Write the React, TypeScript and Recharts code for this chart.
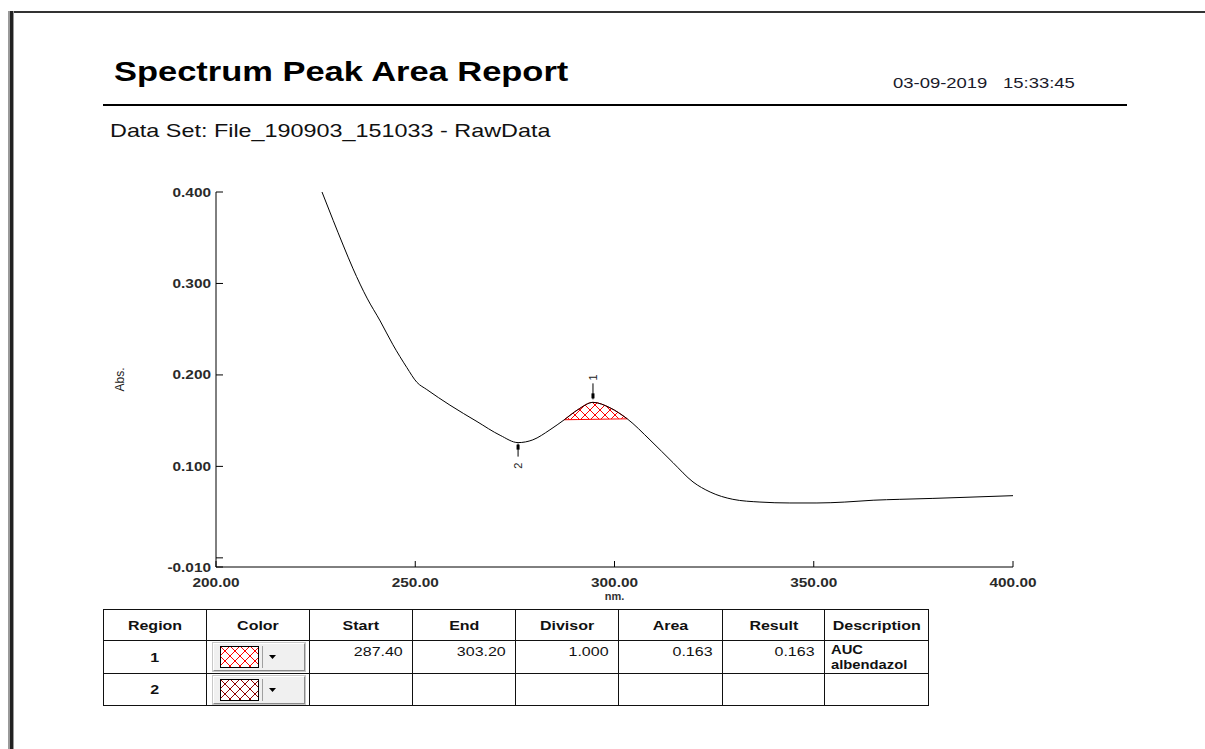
import React from 'react';
import { ComposedChart, Line, Area, XAxis, YAxis, ReferenceDot } from 'recharts';

// spectrum (nm / Abs.)
const wavelength = [
  226.6, 229.4, 231.9, 234.4, 237.9, 241.2, 244.4, 247.9, 250.4, 252.9,
  258.7, 265.5, 271.3, 275.8, 279.5, 283.8, 287.4, 290.8, 294.6, 298.9,
  303.2, 308.9, 314.7, 319.7, 324.0, 329.7, 336.5, 344.0, 350.8, 357.8,
  364.9, 371.6, 379.9, 386.7, 400.0,
];
const absorbance = [
  0.400, 0.369, 0.342, 0.316, 0.284, 0.259, 0.233, 0.208, 0.192, 0.184,
  0.167, 0.149, 0.134, 0.126, 0.129, 0.140, 0.151, 0.162, 0.170, 0.164,
  0.152, 0.129, 0.104, 0.083, 0.072, 0.064, 0.061, 0.060, 0.060, 0.061,
  0.063, 0.064, 0.065, 0.066, 0.068,
];

const xTicks = [200, 250, 300, 350, 400];
const yTicks = [-0.01, 0, 0.1, 0.2, 0.3, 0.4];

const regionStart = 287.4;
const regionEnd = 303.2;
const peakMarker = { nm: 294.6, abs: 0.170, label: '1' };
const valleyMarker = { nm: 275.8, abs: 0.126, label: '2' };

// table
const tableHeaders = ['Region', 'Color', 'Start', 'End', 'Divisor', 'Area', 'Result', 'Description'];
const colWidths = [103, 103, 103, 103, 103, 104, 102, 104];
const regionIds = ['1', '2'];
const swatchColors = ['#ff0000', '#900000'];
const startValues = ['287.40', ''];
const endValues = ['303.20', ''];
const divisorValues = ['1.000', ''];
const areaValues = ['0.163', ''];
const resultValues = ['0.163', ''];
const descriptions = [['AUC', 'albendazol'], []];

const FONT = "'Liberation Sans', Arial, sans-serif";
const SX = 1.23; // the report text is drawn a bit wide

const startIdx = wavelength.indexOf(regionStart);
const endIdx = wavelength.indexOf(regionEnd);
const chartData = wavelength.map((nm, i) => {
  const row: any = { nm, abs: absorbance[i] };
  if (i >= startIdx && i <= endIdx) {
    const t = (nm - regionStart) / (regionEnd - regionStart);
    const base = absorbance[startIdx] + t * (absorbance[endIdx] - absorbance[startIdx]);
    row.region = [base, absorbance[i]];
  }
  return row;
});

const Wide = ({ children, origin = 'left' }: any) => (
  <span style={{ display: 'inline-block', transform: `scaleX(${SX})`, transformOrigin: origin, whiteSpace: 'nowrap' }}>
    {children}
  </span>
);

// ticks point into the plot, so the tick line is drawn here together with the label
const XTick = ({ x, y, payload }: any) => (
  <g transform={`translate(${x},${y})`}>
    <line x1={0} x2={0} y1={-11} y2={-17} stroke="#000" />
    <text transform={`scale(${SX},1)`} textAnchor="middle" dy="0.71em" fontSize={12.5} fontWeight="bold" fill="#2a2a2a" fontFamily={FONT}>
      {payload.value.toFixed(2)}
    </text>
  </g>
);

const YTick = ({ x, y, payload }: any) => (
  <g transform={`translate(${x},${y})`}>
    <line x1={5} x2={12} y1={0} y2={0} stroke="#000" />
    <text transform={`scale(${SX},1)`} textAnchor="end" dy="0.36em" fontSize={12.5} fontWeight="bold" fill="#2a2a2a" fontFamily={FONT}>
      {payload.value === 0 ? '' : payload.value.toFixed(3)}
    </text>
  </g>
);

const TopTick = ({ x, y }: any) => <line x1={x} x2={x} y1={y} y2={y + 6} stroke="#000" />;
const RightTick = ({ x, y }: any) => <line x1={x - 7} x2={x} y1={y} y2={y} stroke="#000" />;

const PeakMark = ({ cx, cy }: any) => (
  <g>
    <line x1={cx} x2={cx} y1={cy - 19} y2={cy - 3} stroke="#000" />
    <rect x={cx - 1.5} y={cy - 9} width={3} height={5} fill="#000" />
    <text transform={`translate(${cx},${cy - 25}) rotate(-90)`} textAnchor="middle" dy="0.36em" fontSize={11} fill="#222" fontFamily={FONT}>
      {peakMarker.label}
    </text>
  </g>
);

const ValleyMark = ({ cx, cy }: any) => (
  <g>
    <line x1={cx} x2={cx} y1={cy + 1} y2={cy + 14} stroke="#000" />
    <rect x={cx - 1.5} y={cy + 2} width={3} height={5} fill="#000" />
    <text transform={`translate(${cx},${cy + 23}) rotate(-90)`} textAnchor="middle" dy="0.36em" fontSize={11} fill="#222" fontFamily={FONT}>
      {valleyMarker.label}
    </text>
  </g>
);

const cell: any = { border: '1px solid #111', padding: 0, verticalAlign: 'top', fontSize: 13, overflow: 'hidden' };

const ColorButton = ({ i }: any) => (
  <div style={{ position: 'relative', margin: '2px 4px 1px 6px', height: 26, background: '#f0f0f0', borderTop: '1px solid #fff', borderLeft: '1px solid #fff', borderRight: '1px solid #8a8a8a', borderBottom: '1px solid #8a8a8a', boxShadow: '0 0 0 1px #c8c8c8' }}>
    <svg width={40} height={23} style={{ position: 'absolute', left: 6, top: 2 }}>
      <rect x={0.5} y={0.5} width={38} height={21} fill={`url(#swatch-${i})`} stroke="#000" />
    </svg>
    <div style={{ position: 'absolute', left: 48, top: 2, width: 1, height: 22, background: '#a0a0a0' }} />
    <svg width={8} height={5} style={{ position: 'absolute', left: 55, top: 11 }}>
      <polygon points="0,0 7,0 3.5,4" fill="#000" />
    </svg>
  </div>
);

export default function App() {
  return (
    <div style={{ position: 'absolute', left: 0, top: 0, width: 1205, height: 749, background: '#fff', overflow: 'hidden', fontFamily: FONT, color: '#111' }}>
      <svg width={0} height={0} style={{ position: 'absolute' }}>
        <defs>
          <pattern id="hatch-red" patternUnits="userSpaceOnUse" width={10} height={10}>
            <path d="M0,0 L10,10 M10,0 L0,10" stroke="#ff0000" strokeWidth={1} />
          </pattern>
          {swatchColors.map((c, i) => (
            <pattern key={i} id={`swatch-${i}`} patternUnits="userSpaceOnUse" width={10} height={10}>
              <rect width={10} height={10} fill="#fff" />
              <path d="M0,0 L10,10 M10,0 L0,10" stroke={c} strokeWidth={1} />
            </pattern>
          ))}
        </defs>
      </svg>

      {/* page frame */}
      <div style={{ position: 'absolute', left: 8, top: 11, width: 1197, height: 2, background: '#333' }} />
      <div style={{ position: 'absolute', left: 8, top: 11, width: 6, height: 738, background: 'linear-gradient(to right, #9a9a9a 0 2px, #222 2px 5px, #9a9a9a 5px 6px)' }} />

      <div style={{ position: 'absolute', left: 114, top: 58, fontSize: 28, fontWeight: 'bold', lineHeight: 1, color: '#000' }}>
        <Wide>Spectrum Peak Area Report</Wide>
      </div>
      <div style={{ position: 'absolute', left: 893, top: 75, fontSize: 15, lineHeight: 1, color: '#1a1a2a' }}>
        <Wide>03-09-2019</Wide>
      </div>
      <div style={{ position: 'absolute', left: 1003, top: 75, fontSize: 15, lineHeight: 1, color: '#1a1a2a' }}>
        <Wide>15:33:45</Wide>
      </div>
      <div style={{ position: 'absolute', left: 103, top: 104, width: 1024, height: 2, background: '#000' }} />
      <div style={{ position: 'absolute', left: 110, top: 121, fontSize: 19, lineHeight: 1, color: '#111' }}>
        <Wide>Data Set: File_190903_151033 - RawData</Wide>
      </div>

      <div style={{ position: 'absolute', left: 100, top: 170 }}>
        <ComposedChart width={953} height={437} data={chartData} margin={{ top: 22, right: 40, bottom: 4, left: 0 }}>
          <XAxis
            dataKey="nm"
            type="number"
            domain={[200, 400]}
            ticks={xTicks}
            interval={0}
            allowDataOverflow
            height={36}
            tickSize={0}
            tickLine={false}
            tickMargin={11}
            stroke="#000"
            tick={(p: any) => <XTick {...p} />}
            label={{ value: 'nm.', position: 'insideBottom', offset: 3, fontSize: 11, fontWeight: 'bold', fill: '#333', fontFamily: FONT }}
          />
          <XAxis xAxisId="top" orientation="top" type="number" domain={[200, 400]} ticks={xTicks} interval={0} height={0} tickSize={0} tickMargin={0} tickLine={false} tick={(p: any) => <TopTick {...p} />} stroke="#000" />
          <YAxis
            type="number"
            domain={[-0.01, 0.4]}
            ticks={yTicks}
            interval={0}
            allowDataOverflow
            width={116}
            tickSize={0}
            tickLine={false}
            tickMargin={5}
            stroke="#000"
            tick={(p: any) => <YTick {...p} />}
            label={{ value: 'Abs.', angle: -90, position: 'insideLeft', offset: 20, fontSize: 12, fill: '#222', fontFamily: FONT, style: { textAnchor: 'middle' } }}
          />
          <YAxis yAxisId="right" orientation="right" type="number" domain={[-0.01, 0.4]} ticks={yTicks} interval={0} width={0} tickSize={0} tickMargin={0} tickLine={false} tick={(p: any) => <RightTick {...p} />} stroke="#000" />
          <Area
            dataKey="region"
            type="monotone"
            stroke="#ff0000"
            strokeWidth={1}
            fill="url(#hatch-red)"
            fillOpacity={1}
            dot={false}
            activeDot={false}
            isAnimationActive={false}
          />
          <Line dataKey="abs" type="monotone" stroke="#000" strokeWidth={1} dot={false} activeDot={false} isAnimationActive={false} />
          <ReferenceDot x={peakMarker.nm} y={peakMarker.abs} shape={(p: any) => <PeakMark {...p} />} />
          <ReferenceDot x={valleyMarker.nm} y={valleyMarker.abs} shape={(p: any) => <ValleyMark {...p} />} />
        </ComposedChart>
      </div>

      <table style={{ position: 'absolute', left: 103, top: 609, borderCollapse: 'collapse', tableLayout: 'fixed', width: 825, border: '1px solid #555' }}>
        <colgroup>
          {colWidths.map((w, i) => <col key={i} style={{ width: w }} />)}
        </colgroup>
        <tbody>
          <tr style={{ height: 31 }}>
            {tableHeaders.map((h) => (
              <td key={h} style={{ ...cell, verticalAlign: 'middle', textAlign: 'center', fontWeight: 'bold' }}>
                <Wide origin="center">{h}</Wide>
              </td>
            ))}
          </tr>
          {regionIds.map((id, i) => (
            <tr key={id} style={{ height: i === 0 ? 32 : 31 }}>
              <td style={{ ...cell, verticalAlign: 'middle', textAlign: 'center', fontWeight: 'bold' }}>
                <Wide origin="center">{id}</Wide>
              </td>
              <td style={cell}><ColorButton i={i} /></td>
              {[startValues[i], endValues[i], divisorValues[i], areaValues[i], resultValues[i]].map((v, j) => (
                <td key={j} style={{ ...cell, textAlign: 'right', padding: '3px 9px 0 0' }}>
                  <Wide origin="right">{v}</Wide>
                </td>
              ))}
              <td style={{ ...cell, padding: '2px 0 0 6px', fontSize: 12, fontWeight: 'bold', lineHeight: '15px' }}>
                {descriptions[i].map((d) => (
                  <div key={d}><Wide>{d}</Wide></div>
                ))}
              </td>
            </tr>
          ))}
        </tbody>
      </table>
    </div>
  );
}
